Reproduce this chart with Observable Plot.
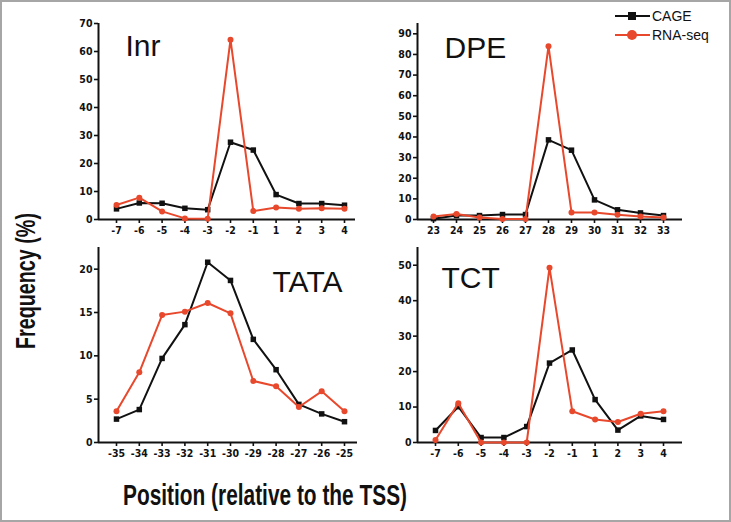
<!DOCTYPE html>
<html>
<head>
<meta charset="utf-8">
<script src="https://cdn.jsdelivr.net/npm/d3@7"></script>
<script src="https://cdn.jsdelivr.net/npm/@observablehq/plot@0.6"></script>
<style>
  body { margin: 0; background: #fff; }
  #wrap { position: relative; width: 731px; height: 522px; overflow: hidden; background: #fff; }
  #wrap > svg { position: absolute; left: 0; top: 0; }
  #frame { position: absolute; left: 0; top: 0; width: 731px; height: 522px; box-sizing: border-box; border: 2px solid #a6a6a6; pointer-events: none; }
</style>
</head>
<body>
<div id="wrap"></div>
<script>
// ---- data ----
const tssPositions = ["-7", "-6", "-5", "-4", "-3", "-2", "-1", "1", "2", "3", "4"];
const dpePositions = ["23", "24", "25", "26", "27", "28", "29", "30", "31", "32", "33"];
const tataPositions = ["-35", "-34", "-33", "-32", "-31", "-30", "-29", "-28", "-27", "-26", "-25"];

const inrCage = [3.8, 5.9, 5.8, 4.0, 3.5, 27.6, 24.8, 8.9, 5.7, 5.7, 5.1];
const inrRna  = [5.2, 7.8, 2.9, 0.4, 0.3, 64.2, 3.0, 4.3, 3.8, 4.0, 3.8];

const dpeCage = [0.4, 1.9, 1.9, 2.4, 2.4, 38.6, 33.6, 9.5, 4.7, 3.2, 1.9];
const dpeRna  = [1.5, 2.7, 1.0, 0.3, 0.3, 84.0, 3.4, 3.4, 2.3, 1.5, 1.0];

const tataCage = [2.7, 3.8, 9.7, 13.6, 20.8, 18.7, 11.9, 8.4, 4.4, 3.3, 2.4];
const tataRna  = [3.6, 8.1, 14.7, 15.1, 16.1, 14.9, 7.1, 6.5, 4.1, 5.9, 3.6];

const tctCage = [3.4, 10.1, 1.4, 1.4, 4.5, 22.4, 26.1, 12.1, 3.5, 7.5, 6.5];
const tctRna  = [0.7, 11.1, 0.0, 0.0, 0.0, 49.3, 8.8, 6.5, 5.8, 8.1, 8.8];

const inrYTicks = [0, 10, 20, 30, 40, 50, 60, 70];
const dpeYTicks = [0, 10, 20, 30, 40, 50, 60, 70, 80, 90];
const tataYTicks = [0, 5, 10, 15, 20];
const tctYTicks = [0, 10, 20, 30, 40, 50];

const seriesNames = ["CAGE", "RNA-seq"];
const colors = ["#111111", "#e8482c"];

// ---- layout ----
const W = 731, H = 522;
const tickFont = "'Liberation Sans Narrow','DejaVu Sans Condensed','Liberation Sans',sans-serif";
const titleFont = "'Liberation Sans',Arial,sans-serif";

function panel(cfg) {
  const { pos, cage, rna, ymax, yticks, left, right, y0, ytop, x0px, step, title, tx, ty } = cfg;
  const idx = pos.map((d, i) => i);
  const xmin = (left - x0px) / step, xmax = (right - x0px) / step;
  return Plot.plot({
    width: W, height: H,
    marginLeft: left, marginRight: W - right, marginTop: ytop, marginBottom: H - y0,
    x: { domain: [xmin, xmax], axis: null },
    y: { domain: [0, ymax], axis: null },
    style: { background: "transparent", overflow: "visible", fontFamily: tickFont, fontSize: "10.5px", fontWeight: "bold", color: "#111" },
    marks: [
      Plot.axisX({ ticks: idx, tickFormat: i => pos[i], tickSize: 4, tickPadding: 3, strokeWidth: 1.6, label: null }),
      Plot.axisY({ ticks: yticks, tickSize: 4, tickPadding: 2, strokeWidth: 1.6, label: null }),
      Plot.ruleY([0], { stroke: "#111", strokeWidth: 2 }),
      Plot.ruleX([xmin], { y1: 0, y2: ymax, stroke: "#111", strokeWidth: 2 }),
      Plot.line(idx, { x: i => i, y: i => cage[i], stroke: colors[0], strokeWidth: 2 }),
      Plot.dot(idx, { x: i => i, y: i => cage[i], symbol: "square", r: 3.1, fill: colors[0], stroke: "none" }),
      Plot.line(idx, { x: i => i, y: i => rna[i], stroke: colors[1], strokeWidth: 2 }),
      Plot.dot(idx, { x: i => i, y: i => rna[i], symbol: "circle", r: 3, fill: colors[1], stroke: "none" }),
      Plot.text([title], { frameAnchor: "top-left", dx: tx - left, dy: ty - ytop, lineAnchor: "bottom", textAnchor: "start",
        fontSize: 30, fontWeight: "normal", fontFamily: titleFont, fill: "#111" })
    ]
  });
}

const wrap = document.getElementById("wrap");
wrap.append(panel({ pos: tssPositions, cage: inrCage, rna: inrRna, ymax: 70, yticks: inrYTicks,
  left: 98, right: 355, y0: 219, ytop: 23, x0px: 116, step: 22.8, title: "Inr", tx: 125, ty: 55 }));
wrap.append(panel({ pos: dpePositions, cage: dpeCage, rna: dpeRna, ymax: 95, yticks: dpeYTicks,
  left: 417, right: 682, y0: 219, ytop: 23, x0px: 433, step: 23, title: "DPE", tx: 444, ty: 57 }));
wrap.append(panel({ pos: tataPositions, cage: tataCage, rna: tataRna, ymax: 22.5, yticks: tataYTicks,
  left: 98, right: 357, y0: 442, ytop: 247, x0px: 116, step: 22.8, title: "TATA", tx: 272, ty: 291 }));
wrap.append(panel({ pos: tssPositions, cage: tctCage, rna: tctRna, ymax: 55, yticks: tctYTicks,
  left: 417, right: 682, y0: 442, ytop: 247, x0px: 435, step: 22.8, title: "TCT", tx: 441, ty: 287 }));

// ---- axis titles and legend (overlay) ----
const ns = "http://www.w3.org/2000/svg";
const ov = document.createElementNS(ns, "svg");
ov.setAttribute("width", W); ov.setAttribute("height", H);
ov.setAttribute("font-family", "'Liberation Sans Narrow','Liberation Sans',Arial,sans-serif");
function txt(attrs, s) {
  const t = document.createElementNS(ns, "text");
  for (const k in attrs) t.setAttribute(k, attrs[k]);
  t.textContent = s; ov.append(t); return t;
}
txt({ x: 265, y: 505, "text-anchor": "middle", "font-size": 30, "font-weight": "bold", fill: "#111",
  textLength: 284, lengthAdjust: "spacingAndGlyphs" }, "Position (relative to the TSS)");
txt({ x: 0, y: 0, transform: "translate(35,281) rotate(-90)", "text-anchor": "middle", "font-size": 28, "font-weight": "bold", fill: "#111",
  textLength: 136, lengthAdjust: "spacingAndGlyphs" }, "Frequency (%)");

// legend
const legY = [16, 35];
seriesNames.forEach((name, k) => {
  const l = document.createElementNS(ns, "line");
  l.setAttribute("x1", 615); l.setAttribute("x2", 650); l.setAttribute("y1", legY[k]); l.setAttribute("y2", legY[k]);
  l.setAttribute("stroke", colors[k]); l.setAttribute("stroke-width", 2); ov.append(l);
  if (k === 0) {
    const r = document.createElementNS(ns, "rect");
    r.setAttribute("x", 628); r.setAttribute("y", legY[k] - 4); r.setAttribute("width", 8); r.setAttribute("height", 8);
    r.setAttribute("fill", colors[k]); ov.append(r);
  } else {
    const c = document.createElementNS(ns, "circle");
    c.setAttribute("cx", 632); c.setAttribute("cy", legY[k]); c.setAttribute("r", 5);
    c.setAttribute("fill", colors[k]); ov.append(c);
  }
  txt({ x: 652, y: legY[k] + 5, "font-size": 14, "font-family": titleFont, fill: "#111" }, name);
});
wrap.append(ov);

const fr = document.createElement("div"); fr.id = "frame"; wrap.append(fr);
</script>
</body>
</html>
